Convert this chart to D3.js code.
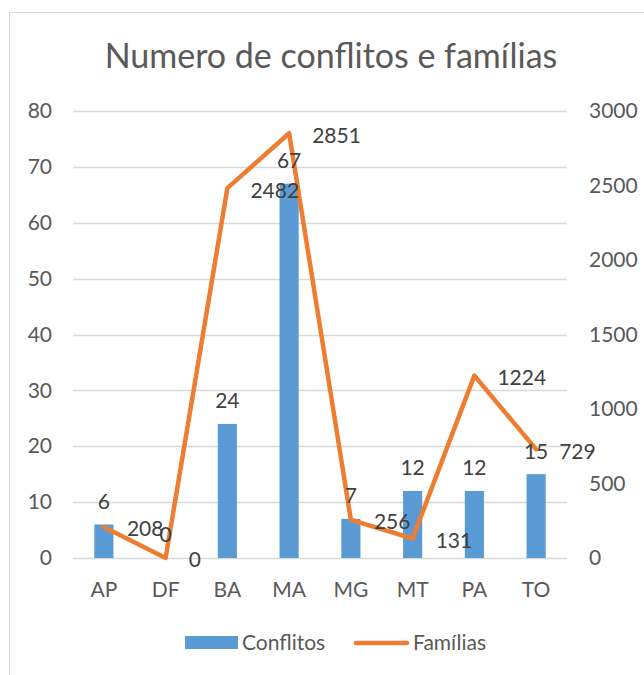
<!DOCTYPE html>
<html>
<head>
<meta charset="utf-8">
<script src="https://cdn.jsdelivr.net/npm/d3@7"></script>
<style>
  body { margin: 0; background: #fff; }
  svg text { font-family: Lato, "Open Sans", sans-serif; fill: #595959; }
</style>
</head>
<body>
<div id="chart"></div>
<script>
// data
const categories = ["AP", "DF", "BA", "MA", "MG", "MT", "PA", "TO"];
const conflitos = [6, 0, 24, 67, 7, 12, 12, 15];
const familias = [208, 0, 2482, 2851, 256, 131, 1224, 729];
const leftTicks = [0, 10, 20, 30, 40, 50, 60, 70, 80];
const rightTicks = [0, 500, 1000, 1500, 2000, 2500, 3000];

const W = 644, H = 675;
const plot = { left: 73, right: 567, top: 111, bottom: 558 };
const fs = "21px";

const svg = d3.select("#chart")
  .append("svg")
  .attr("width", W)
  .attr("height", H);

// chart frame (runs off right and bottom of the picture)
svg.append("rect")
  .attr("x", 9.5).attr("y", 12.5)
  .attr("width", 700).attr("height", 700)
  .attr("fill", "none")
  .attr("stroke", "#d9d9d9");

// title
svg.append("text")
  .attr("x", 331).attr("y", 59)
  .attr("text-anchor", "middle")
  .attr("dominant-baseline", "middle")
  .style("font-size", "34px")
  .text("Numero de conflitos e famílias");

const x = d3.scaleBand()
  .domain(categories)
  .range([plot.left, plot.right])
  .paddingInner(0.69)
  .paddingOuter(0.345);

const band = d3.scaleBand()
  .domain(categories)
  .range([plot.left, plot.right]);

const yL = d3.scaleLinear().domain([0, 80]).range([plot.bottom, plot.top]);
const yR = d3.scaleLinear().domain([0, 3000]).range([plot.bottom, plot.top]);

// gridlines
svg.append("g")
  .selectAll("line")
  .data(leftTicks)
  .join("line")
  .attr("x1", plot.left).attr("x2", plot.right)
  .attr("y1", d => Math.round(yL(d)) + 0.5)
  .attr("y2", d => Math.round(yL(d)) + 0.5)
  .attr("stroke", "#d9d9d9")
  .attr("stroke-width", 1.3);

// left axis
const axL = svg.append("g")
  .attr("transform", `translate(${plot.left - 21},0)`)
  .call(d3.axisLeft(yL).tickValues(leftTicks).tickSize(0).tickPadding(0));
axL.select(".domain").remove();
axL.selectAll("text").style("font-size", fs).attr("fill", "#595959");

// right axis
const axR = svg.append("g")
  .attr("transform", `translate(${plot.right + 22},0)`)
  .call(d3.axisRight(yR).tickValues(rightTicks).tickFormat(d3.format("d"))
    .tickSize(0).tickPadding(0));
axR.select(".domain").remove();
axR.selectAll("text").style("font-size", fs).attr("fill", "#595959");

// category axis
const axX = svg.append("g")
  .attr("transform", `translate(0,${plot.bottom + 21})`)
  .call(d3.axisBottom(band).tickSize(0).tickPadding(0));
axX.select(".domain").remove();
axX.selectAll("text").style("font-size", fs).attr("fill", "#595959")
  .attr("dy", "0.85em");

// bars
svg.selectAll(".bar")
  .data(categories)
  .join("rect")
  .attr("class", "bar")
  .attr("x", d => x(d))
  .attr("width", x.bandwidth())
  .attr("y", (d, i) => yL(conflitos[i]))
  .attr("height", (d, i) => plot.bottom - yL(conflitos[i]))
  .attr("fill", "#5b9bd5");

// line
const line = d3.line()
  .x((d, i) => band(categories[i]) + band.bandwidth() / 2)
  .y(d => yR(d));

svg.append("path")
  .datum(familias)
  .attr("d", line)
  .attr("fill", "none")
  .attr("stroke", "#ed7d31")
  .attr("stroke-width", 4.5)
  .attr("stroke-linejoin", "round")
  .attr("stroke-linecap", "round");

// bar labels
svg.selectAll(".barlab")
  .data(categories)
  .join("text")
  .attr("class", "barlab")
  .attr("x", d => band(d) + band.bandwidth() / 2)
  .attr("y", (d, i) => yL(conflitos[i]) - 23)
  .attr("dy", "0.35em")
  .attr("text-anchor", "middle")
  .style("font-size", fs)
  .style("fill", "#404040")
  .text((d, i) => conflitos[i]);

// line labels, right of each point
svg.selectAll(".linelab")
  .data(categories)
  .join("text")
  .attr("class", "linelab")
  .attr("x", d => band(d) + band.bandwidth() / 2 + 23)
  .attr("y", (d, i) => yR(familias[i]) + 2)
  .attr("dy", "0.35em")
  .attr("text-anchor", "start")
  .style("font-size", fs)
  .style("fill", "#404040")
  .text((d, i) => familias[i]);

// legend
const lg = svg.append("g");
lg.append("rect")
  .attr("x", 185).attr("y", 636)
  .attr("width", 53).attr("height", 13)
  .attr("fill", "#5b9bd5");
lg.append("text")
  .attr("x", 242).attr("y", 643)
  .attr("dy", "0.35em")
  .style("font-size", fs)
  .text("Conflitos");
lg.append("line")
  .attr("x1", 356).attr("x2", 407)
  .attr("y1", 643).attr("y2", 643)
  .attr("stroke", "#ed7d31")
  .attr("stroke-width", 4.5)
  .attr("stroke-linecap", "round");
lg.append("text")
  .attr("x", 413).attr("y", 643)
  .attr("dy", "0.35em")
  .style("font-size", fs)
  .text("Famílias");
</script>
</body>
</html>
